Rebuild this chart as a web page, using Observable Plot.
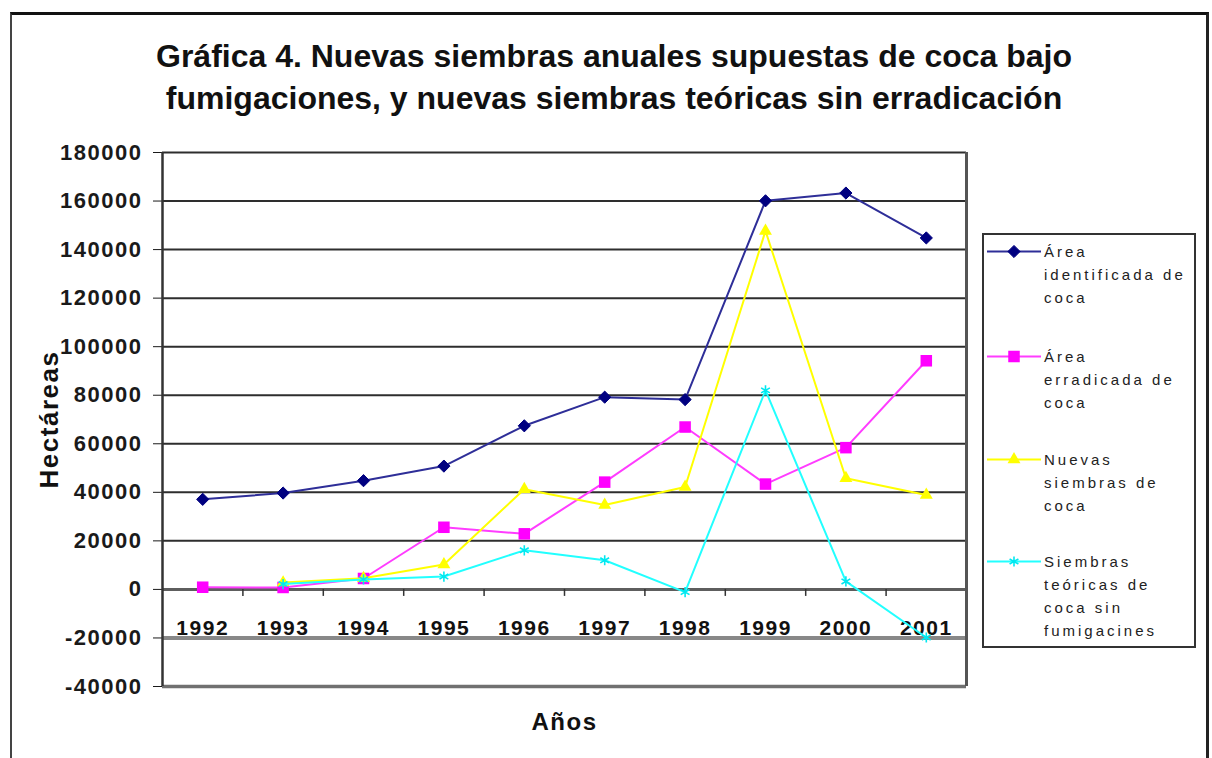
<!DOCTYPE html>
<html>
<head>
<meta charset="utf-8">
<script src="https://cdn.jsdelivr.net/npm/d3@7"></script>
<script src="https://cdn.jsdelivr.net/npm/@observablehq/plot@0.6"></script>
<style>
  html, body { margin: 0; padding: 0; background: #fff; }
  #wrap { position: relative; width: 1212px; height: 758px; overflow: hidden; font-family: Arial, "Liberation Sans", sans-serif; }
  #frame { position: absolute; left: 10px; top: 12px; width: 1194px; height: 800px; border-top: 3px solid #111; border-left: 2px solid #444; border-right: 3px solid #222; }
  #title { position: absolute; left: 0; top: 35px; width: 1228px; text-align: center; font: bold 32px/42px Arial, "Liberation Sans", sans-serif; color: #111; }
  #chart { position: absolute; left: 0; top: 130px; }
  #legend { position: absolute; left: 982px; top: 233px; width: 210px; height: 411px; border: 2px solid #333; background: #fff; }
  .entry { position: absolute; left: 0; width: 210px; }
  .entry svg { position: absolute; left: 2px; top: 0; }
  .entry .txt { position: absolute; left: 60px; top: 0; font: 15px/23px Arial, "Liberation Sans", sans-serif; letter-spacing: 3px; color: #222; white-space: nowrap; }
</style>
</head>
<body>
<div id="wrap">
  <div id="frame"></div>
  <div id="title">Gráfica 4. Nuevas siembras anuales supuestas de coca bajo<br>fumigaciones, y nuevas siembras teóricas sin erradicación</div>
  <div id="chart"></div>
  <div id="legend"></div>
</div>
<script>
// ---- data ----
const years = [1992, 1993, 1994, 1995, 1996, 1997, 1998, 1999, 2000, 2001];
const areaIdentificada = [37100, 39700, 44800, 50800, 67400, 79200, 78200, 160100, 163300, 144800];
const areaErradicada = [900, 800, 4500, 25600, 22900, 44200, 66900, 43400, 58400, 94200];
const nuevasSiembras = [null, 2800, 4600, 10300, 41300, 34800, 42200, 147700, 45800, 38900];
const siembrasTeoricas = [null, 2200, 4100, 5300, 16100, 12000, -1100, 82000, 3300, -19800];
const yTicks = [-40000, -20000, 0, 20000, 40000, 60000, 80000, 100000, 120000, 140000, 160000, 180000];
const legendLabels = [
  ["Área", "identificada de", "coca"],
  ["Área", "erradicada de", "coca"],
  ["Nuevas", "siembras de", "coca"],
  ["Siembras", "teóricas de", "coca sin", "fumigacines"]
];
const yTitle = "Hectáreas";
const xTitle = "Años";

// ---- styling ----
const seriesStyle = [
  {values: areaIdentificada, line: "#2e2e98", fill: "#000080", stroke: "#000080", symbol: "diamond2", d3symbol: d3.symbolDiamond2, r: 5.5, sw: 1},
  {values: areaErradicada, line: "#ff3cff", fill: "#ff00ff", stroke: "#ff00ff", symbol: "square", d3symbol: d3.symbolSquare, r: 6.5, sw: 0},
  {values: nuevasSiembras, line: "#ffff00", fill: "#ffff00", stroke: "#ffff00", symbol: "triangle", d3symbol: d3.symbolTriangle, r: 4.8, sw: 0},
  {values: siembrasTeoricas, line: "#22ffff", fill: "none", stroke: "#00e8f0", symbol: "asterisk", d3symbol: d3.symbolAsterisk, r: 4.8, sw: 1.6}
];

const rowsOf = vals => years.map((year, i) => ({year, value: vals[i]})).filter(d => d.value != null);
const xDomain = [years[0] - 0.5, years[years.length - 1] + 0.5];
const boundaries = years.slice(1).map(y => y - 0.5);

const marks = [
  Plot.ruleY(yTicks, {
    y: d => d,
    stroke: d => d === 0 ? "#5e5e5e" : d === -20000 ? "#888" : d < 0 ? "#707070" : "#2e2e2e",
    strokeWidth: d => d === 0 ? 3 : d === -20000 ? 4 : d < 0 ? 3.5 : 2
  }),
  Plot.ruleX(xDomain, {x: d => d, stroke: (d, i) => i === 0 ? "#333" : "#555", strokeWidth: (d, i) => i === 0 ? 2.5 : 3}),
  Plot.ruleX(boundaries, {x: d => d, y1: 0, y2: 0, insetBottom: -7, stroke: "#333", strokeWidth: 1.5}),
  Plot.text(years, {x: d => d, y: 0, text: d => String(d), dy: 39, lineAnchor: "middle", fontSize: 21, fill: "#111"}),
  Plot.text([yTitle], {frameAnchor: "left", textAnchor: "middle", rotate: -90, dx: -113, fontSize: 26, fill: "#111", lineAnchor: "middle"}),
  Plot.text([xTitle], {frameAnchor: "bottom", textAnchor: "middle", dy: 36, lineAnchor: "middle", fontSize: 24, fill: "#111"})
];
for (const s of seriesStyle) {
  const rows = rowsOf(s.values);
  marks.push(Plot.line(rows, {x: "year", y: "value", stroke: s.line, strokeWidth: 2}));
  marks.push(Plot.dot(rows, {x: "year", y: "value", symbol: s.symbol, r: s.r, fill: s.fill, stroke: s.stroke, strokeWidth: s.sw}));
}

const chart = Plot.plot({
  width: 1212,
  height: 628,
  marginTop: 22,
  marginBottom: 72,
  marginLeft: 162,
  marginRight: 246,
  style: {fontFamily: "Arial, 'Liberation Sans', sans-serif", fontSize: "22px", fontWeight: "bold", letterSpacing: "1.5px", color: "#1a1a1a", background: "transparent", overflow: "visible"},
  x: {domain: xDomain, axis: null},
  y: {domain: [yTicks[0], yTicks[yTicks.length - 1]], ticks: yTicks, tickSize: 9, tickPadding: 11, tickFormat: d => String(d), label: null},
  marks
});
document.getElementById("chart").appendChild(chart);

// ---- legend ----
const legend = d3.select("#legend");
const entryTops = [5, 110, 213, 315];
legendLabels.forEach((lines, i) => {
  const s = seriesStyle[i];
  const entry = legend.append("div").attr("class", "entry").style("top", entryTops[i] + "px");
  const svg = entry.append("svg").attr("width", 56).attr("height", 23);
  svg.append("line").attr("x1", 1).attr("x2", 55).attr("y1", 11.5).attr("y2", 11.5).attr("stroke", s.line).attr("stroke-width", 2);
  svg.append("path")
    .attr("transform", "translate(28,11.5)")
    .attr("d", d3.symbol(s.d3symbol, Math.PI * s.r * s.r)())
    .attr("fill", s.fill).attr("stroke", s.stroke).attr("stroke-width", s.sw);
  entry.append("div").attr("class", "txt").html(lines.join("<br>"));
});
</script>
</body>
</html>
